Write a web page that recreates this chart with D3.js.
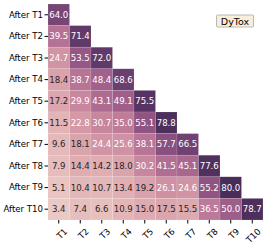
<!DOCTYPE html>
<html>
<head>
<meta charset="utf-8">
<script src="https://cdn.jsdelivr.net/npm/d3@7"></script>
<style>
  body { margin: 0; background: #fff; }
  text { font-family: "DejaVu Sans", sans-serif; }
</style>
</head>
<body>
<div id="chart"></div>
<script>
// tasks and accuracy after each task (lower triangle)
let tasks = ['T1', 'T2', 'T3', 'T4', 'T5', 'T6', 'T7', 'T8', 'T9', 'T10'];
let rowLabels = tasks.map((t) => 'After ' + t);
let acc = [
    [64.0],
    [39.5, 71.4],
    [24.7, 53.5, 72.0],
    [18.4, 38.7, 48.4, 68.6],
    [17.2, 29.9, 43.1, 49.1, 75.5],
    [11.5, 22.8, 30.7, 35.0, 55.1, 78.8],
    [9.6, 18.1, 24.4, 25.6, 38.1, 57.7, 66.5],
    [7.9, 14.4, 14.2, 18.0, 30.2, 41.5, 45.1, 77.6],
    [5.1, 10.4, 10.7, 13.4, 19.2, 26.1, 24.6, 55.2, 80.0],
    [3.4, 7.4, 6.6, 10.9, 15.0, 17.5, 15.5, 36.5, 50.0, 78.7]
];
let methodName = 'DyTox';

let config = {
    svg: { width: 266, height: 245 },
    plot: { x: 48, y: 4, width: 215, height: 216 }
};

let svg = d3.select('#chart')
    .append('svg')
        .attr('width', config.svg.width)
        .attr('height', config.svg.height);

let plot = svg.append('g')
        .attr('transform', translate(config.plot.x, config.plot.y));

let x = d3.scaleBand().domain(tasks).range([0, config.plot.width]);
let y = d3.scaleBand().domain(rowLabels).range([0, config.plot.height]);

// seaborn default cubehelix palette (light .85 -> dark .15)
function cubehelix(t) {
    let v = 0.85 + (0.15 - 0.85) * t;
    let a = 0.8 * v * (1 - v) / 2;
    let phi = 2 * Math.PI * (0.4 * v);
    let c = (p0, p1) => Math.max(0, Math.min(1, v + a * (p0 * Math.cos(phi) + p1 * Math.sin(phi))));
    return [c(-0.14861, 1.78277), c(-0.29227, -0.90649), c(1.97294, 0.0)];
}
let color = d3.scaleSequential((t) => {
    let rgb = cubehelix(t);
    return d3.rgb(rgb[0] * 255, rgb[1] * 255, rgb[2] * 255).toString();
}).domain([0, 90]).clamp(true);

function lum(c) {
    let rgb = d3.rgb(c);
    let f = (v) => { v /= 255; return v <= 0.03928 ? v / 12.92 : Math.pow((v + 0.055) / 1.055, 2.4); };
    return 0.2126 * f(rgb.r) + 0.7152 * f(rgb.g) + 0.0722 * f(rgb.b);
}

let cells = [];
acc.forEach((row, i) => {
    row.forEach((v, j) => {
        cells.push({ row: rowLabels[i], col: tasks[j], value: v });
    });
});

plot.selectAll('.cell')
    .data(cells)
    .enter()
    .append('rect')
        .attr('class', 'cell')
        .attr('x', (d) => x(d.col))
        .attr('y', (d) => y(d.row))
        .attr('width', x.bandwidth())
        .attr('height', y.bandwidth())
        .style('fill', (d) => color(d.value))
        .style('stroke', 'rgba(255,255,255,0.25)')
        .style('stroke-width', 0.5);

plot.selectAll('.annot')
    .data(cells)
    .enter()
    .append('text')
        .attr('class', 'annot')
        .attr('x', (d) => x(d.col) + x.bandwidth() / 2)
        .attr('y', (d) => y(d.row) + y.bandwidth() / 2)
        .attr('text-anchor', 'middle')
        .attr('dominant-baseline', 'central')
        .style('font-size', '8.6px')
        .style('fill', (d) => lum(color(d.value)) > 0.408 ? '#262626' : '#ffffff')
        .text((d) => d.value.toFixed(1));

// axes
let xAxis = plot.append('g')
        .attr('transform', translate(0, config.plot.height))
    .call(d3.axisBottom(x).tickSize(3.5).tickPadding(2));
xAxis.select('.domain').remove();
xAxis.selectAll('text')
    .style('font-size', '8.6px')
    .style('fill', '#000')
    .attr('text-anchor', 'end')
    .attr('dy', '0.35em')
    .attr('transform', 'translate(3,6) rotate(-45)');

let yAxis = plot.append('g')
    .call(d3.axisLeft(y).tickSize(3.5).tickPadding(1.5));
yAxis.select('.domain').remove();
yAxis.selectAll('text')
    .style('font-size', '8.6px')
    .style('fill', '#000');

// method label box
let box = svg.append('g').attr('transform', translate(235, 21));
box.append('rect')
    .attr('x', -18.5)
    .attr('y', -6)
    .attr('width', 37)
    .attr('height', 12)
    .attr('rx', 1)
    .style('fill', '#faeed9')
    .style('stroke', '#a9a9a9')
    .style('stroke-width', 0.8);
box.append('text')
    .attr('text-anchor', 'middle')
    .attr('dominant-baseline', 'central')
    .style('font-size', '9.5px')
    .text(methodName);

// helper method to make translating easier
function translate(x, y) {
    return 'translate(' + x + ',' + y + ')';
}
</script>
</body>
</html>
